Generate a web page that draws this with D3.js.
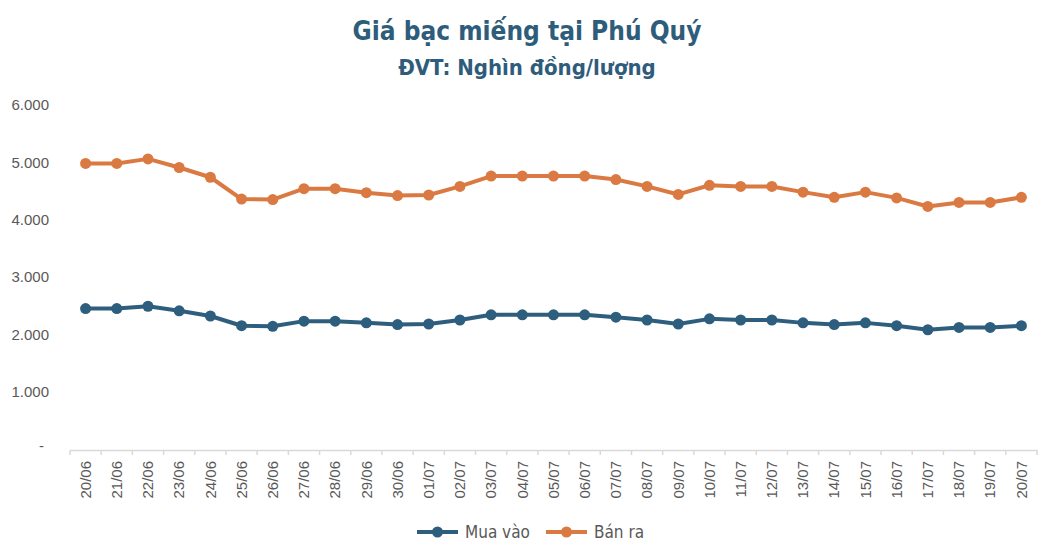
<!DOCTYPE html>
<html>
<head>
<meta charset="utf-8">
<script src="https://cdn.jsdelivr.net/npm/d3@7"></script>
<style>
  body { margin: 0; background: #fff; }
  .title { font-family: "DejaVu Sans Condensed", "DejaVu Sans", sans-serif; font-stretch: condensed; font-weight: bold; fill: #2e5c7b; }
  .tick text { font-family: "Liberation Sans", Arial, sans-serif; fill: #595959; }
  .legend text { font-family: "Liberation Sans Narrow", "DejaVu Sans Condensed", sans-serif; font-stretch: condensed; fill: #595959; font-size: 17px; }
</style>
</head>
<body>
<svg id="chart"></svg>
<script>
// Ngày (categories)
var days = ["20/06","21/06","22/06","23/06","24/06","25/06","26/06","27/06","28/06","29/06","30/06",
            "01/07","02/07","03/07","04/07","05/07","06/07","07/07","08/07","09/07","10/07",
            "11/07","12/07","13/07","14/07","15/07","16/07","17/07","18/07","19/07","20/07"];

// Giá mua vào
var muaVao = [2450,2450,2490,2410,2320,2150,2140,2230,2230,2200,2170,
              2180,2250,2340,2340,2340,2340,2300,2250,2180,2270,
              2250,2250,2200,2170,2200,2150,2080,2120,2120,2150];

// Giá bán ra
var banRa = [4980,4980,5060,4910,4740,4360,4350,4540,4540,4470,4420,
             4430,4580,4760,4760,4760,4760,4700,4580,4440,4600,
             4580,4580,4480,4390,4480,4380,4230,4300,4300,4390];

var yTicks = [0,1000,2000,3000,4000,5000,6000];

var series = [
    { name: "Mua vào", values: muaVao, color: "#2e5e7d" },
    { name: "Bán ra", values: banRa, color: "#da7a42" }
];

var width = 1058, height = 556;
var svg = d3.select("#chart").attr("width", width).attr("height", height);

// Title
svg.append("text").attr("class", "title")
    .attr("x", 527).attr("y", 40)
    .attr("text-anchor", "middle")
    .style("font-size", "26px")
    .text("Giá bạc miếng tại Phú Quý");

svg.append("text").attr("class", "title")
    .attr("x", 527).attr("y", 75)
    .attr("text-anchor", "middle")
    .style("font-size", "22px")
    .text("ĐVT: Nghìn đồng/lượng");

var x = d3.scaleBand()
    .domain(days)
    .range([70, 1037]);

var y = d3.scaleLinear()
    .domain([0, 6000])
    .range([449, 105]);

// y axis (labels only)
var yAxis = svg.append("g")
    .attr("transform", "translate(49,0)")
    .call(d3.axisLeft(y).tickValues(yTicks).tickSize(0).tickPadding(0)
        .tickFormat(function(d) { return d === 0 ? "-" : d3.format(",")(d).replace(/,/g, "."); }));
yAxis.select(".domain").remove();
yAxis.selectAll("text")
    .style("font-size", "15px")
    .attr("dx", function(d) { return d === 0 ? -5 : 0; })
    .attr("dy", function(d) { return d === 0 ? "0.1em" : "0.32em"; });

// x axis
var xAxis = svg.append("g")
    .attr("transform", "translate(0,450)")
    .call(d3.axisBottom(x).tickSize(0).tickPadding(0));
xAxis.select(".domain").attr("stroke", "#d9d9d9").attr("stroke-width", 1.5);
xAxis.selectAll(".tick text")
    .style("font-size", "15px")
    .attr("text-anchor", "end")
    .attr("transform", "rotate(-90)")
    .attr("x", -11)
    .attr("y", 0)
    .attr("dy", "0.35em");

// tick marks at band boundaries
var bounds = days.map(function(d) { return x(d); }).concat([x(days[days.length - 1]) + x.bandwidth()]);
xAxis.selectAll(".bound")
    .data(bounds)
    .enter().append("line")
    .attr("class", "bound")
    .attr("x1", function(d) { return d; })
    .attr("x2", function(d) { return d; })
    .attr("y1", 0).attr("y2", 5)
    .attr("stroke", "#d9d9d9").attr("stroke-width", 1.5);

var line = d3.line()
    .x(function(d, i) { return x(days[i]) + x.bandwidth() / 2; })
    .y(function(d) { return y(d); });

series.forEach(function(s) {
    var g = svg.append("g");
    g.append("path")
        .attr("d", line(s.values))
        .attr("fill", "none")
        .attr("stroke", s.color)
        .attr("stroke-width", 4)
        .attr("stroke-linejoin", "round");
    g.selectAll("circle")
        .data(s.values)
        .enter().append("circle")
        .attr("cx", function(d, i) { return x(days[i]) + x.bandwidth() / 2; })
        .attr("cy", function(d) { return y(d); })
        .attr("r", 5.5)
        .attr("fill", s.color);
});

// Legend
var legendX = [417, 546];
var legend = svg.selectAll(".legend")
    .data(series)
    .enter().append("g")
    .attr("class", "legend")
    .attr("transform", function(d, i) { return "translate(" + legendX[i] + ",532)"; });

legend.append("line")
    .attr("x1", 0).attr("x2", 41)
    .attr("stroke", function(d) { return d.color; })
    .attr("stroke-width", 4);
legend.append("circle")
    .attr("cx", 20.5).attr("r", 5.5)
    .attr("fill", function(d) { return d.color; });
legend.append("text")
    .attr("x", 48)
    .attr("dy", "0.35em")
    .text(function(d) { return d.name; });
</script>
</body>
</html>
